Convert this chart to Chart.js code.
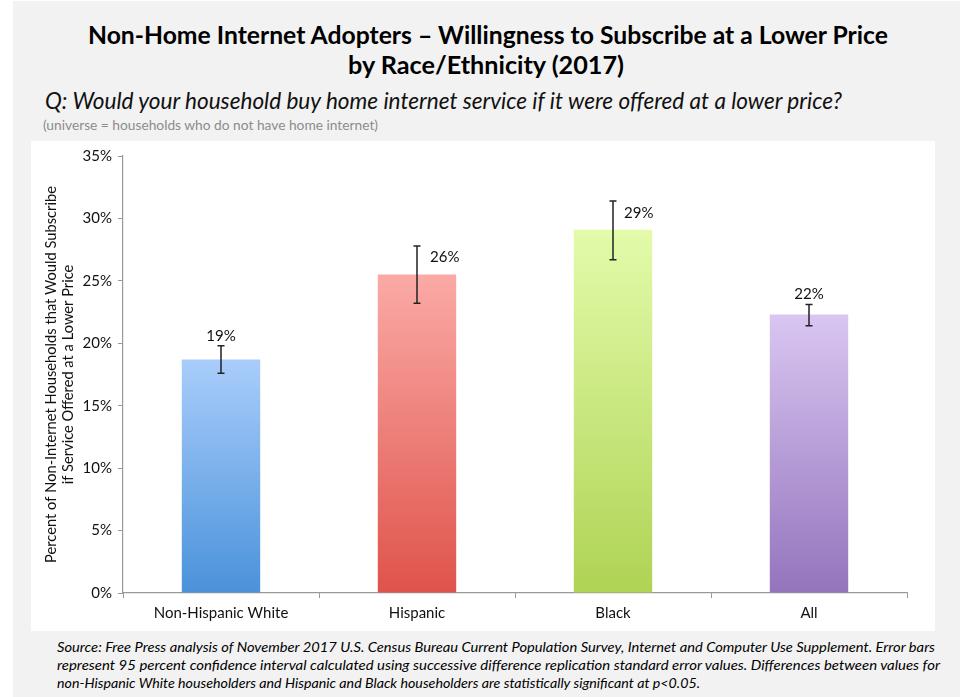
<!DOCTYPE html>
<html>
<head>
<meta charset="utf-8">
<script src="https://cdn.jsdelivr.net/npm/chart.js@4.4.0/dist/chart.umd.min.js"></script>
<style>
  body { margin:0; background:#fff; width:974px; height:697px; overflow:hidden; position:relative; font-family:"Lato","Open Sans",sans-serif; }
  #panel { position:absolute; left:13px; top:1px; width:947px; height:696px; background:#f2f2f2; }
  .fit { position:absolute; white-space:nowrap; transform-origin:0 0; }
  #t1, #t2 { font-weight:bold; font-size:24px; color:#000; }
  #q { font-style:italic; font-size:23px; color:#111; }
  #u { font-size:13px; color:#8c8c8c; }
  #box { position:absolute; left:31px; top:141px; width:904px; height:490px; background:#fff; }
</style>
</head>
<body>
<div id="panel"></div>
<div class="fit" id="t1" data-x="88" data-y="20" data-w="800">Non-Home Internet Adopters – Willingness to Subscribe at a Lower Price</div>
<div class="fit" id="t2" data-x="348" data-y="50" data-w="276">by Race/Ethnicity (2017)</div>
<div class="fit" id="q" data-x="45" data-y="86" data-w="797">Q: Would your household buy home internet service if it were offered at a lower price?</div>
<div class="fit" id="u" data-x="43" data-y="117" data-w="335">(universe = households who do not have home internet)</div>
<div id="box"><canvas id="canvas" width="904" height="490"></canvas></div>
<div class="fit" data-x="57" data-y="639" data-w="878" style="font-style:italic;font-size:13px">Source: Free Press analysis of November 2017 U.S. Census Bureau Current Population Survey, Internet and Computer Use Supplement. Error bars</div>
<div class="fit" data-x="57" data-y="657" data-w="883" style="font-style:italic;font-size:13px">represent 95 percent confidence interval calculated using successive difference replication standard error values. Differences between values for</div>
<div class="fit" data-x="57" data-y="675" data-w="643" style="font-style:italic;font-size:13px">non-Hispanic White householders and Hispanic and Black householders are statistically significant at p&lt;0.05.</div>
<script>
// squeeze the header / footer lines to the widths of the original
var fits = document.querySelectorAll('.fit');
for (var i = 0; i < fits.length; i++) {
  var el = fits[i];
  el.style.left = el.dataset.x + 'px';
  el.style.top = el.dataset.y + 'px';
  var w = el.getBoundingClientRect().width;
  el.style.transform = 'scaleX(' + (parseFloat(el.dataset.w) / w) + ')';
}

var categories = ['Non-Hispanic White', 'Hispanic', 'Black', 'All'];
var values = [18.7, 25.5, 29.1, 22.3];
var errLow = [17.6, 23.2, 26.7, 21.4];
var errHigh = [19.8, 27.8, 31.4, 23.1];
var valueLabels = ['19%', '26%', '29%', '22%'];
var yTicks = [0, 5, 10, 15, 20, 25, 30, 35];

var topColors = ['#a9cdfb', '#fbaaa6', '#e3fbaa', '#d9c6f1'];
var bottomColors = ['#4a92da', '#df534b', '#afd354', '#9474bd'];
// label nudges where the error bar would run through the label
var labelShift = [0, 26, 24, 0];

var ctx = document.getElementById('canvas').getContext('2d');

var errorBars = {
  id: 'errorBars',
  afterDatasetsDraw: function(chart) {
    var c = chart.ctx, y = chart.scales.y, meta = chart.getDatasetMeta(0);
    c.save();
    c.strokeStyle = '#222';
    c.lineWidth = 1.5;
    for (var i = 0; i < values.length; i++) {
      var x = meta.data[i].x;
      var hi = y.getPixelForValue(errHigh[i]), lo = y.getPixelForValue(errLow[i]);
      c.beginPath();
      c.moveTo(x, hi); c.lineTo(x, lo);
      c.moveTo(x - 3.5, hi); c.lineTo(x + 3.5, hi);
      c.moveTo(x - 3.5, lo); c.lineTo(x + 3.5, lo);
      c.stroke();
    }
    c.fillStyle = '#111';
    c.font = '15px Lato, "Open Sans", sans-serif';
    c.textBaseline = 'middle';
    for (var i = 0; i < values.length; i++) {
      var x = meta.data[i].x;
      var top = y.getPixelForValue(values[i]);
      var ly = top - 17;
      if (labelShift[i] == 0) {
        ly = Math.min(ly, y.getPixelForValue(errHigh[i]) - 10);
        c.textAlign = 'center';
        c.fillText(valueLabels[i], x, ly);
      } else {
        c.textAlign = 'left';
        c.fillText(valueLabels[i], x + labelShift[i] - 13, ly);
      }
    }
    c.restore();
  }
};

var chart = new Chart(ctx, {
  type: 'bar',
  data: {
    labels: categories,
    datasets: [{
      data: values,
      backgroundColor: function(context) {
        var ch = context.chart;
        if (!ch.chartArea) return topColors[context.dataIndex];
        var y = ch.scales.y;
        var g = ch.ctx.createLinearGradient(0, y.getPixelForValue(values[context.dataIndex]), 0, y.getPixelForValue(0));
        g.addColorStop(0, topColors[context.dataIndex]);
        g.addColorStop(1, bottomColors[context.dataIndex]);
        return g;
      },
      borderWidth: 0,
      barPercentage: 0.4,
      categoryPercentage: 1
    }]
  },
  options: {
    responsive: false,
    animation: false,
    layout: { padding: { top: 5, right: 28, left: 0, bottom: 0 } },
    plugins: { legend: { display: false }, tooltip: { enabled: false } },
    scales: {
      x: {
        grid: { display: true, drawOnChartArea: false, offset: true, tickLength: 5, color: '#999' },
        border: { color: '#999', width: 1.2 },
        ticks: { color: '#111', font: { family: 'Lato, "Open Sans", sans-serif', size: 15 }, padding: 6 },
        afterFit: function(s) { s.height = 38; }
      },
      y: {
        min: 0, max: 35,
        afterBuildTicks: function(s) { s.ticks = yTicks.map(function(v) { return { value: v }; }); },
        grid: { display: true, drawOnChartArea: false, tickLength: 5, color: '#999' },
        border: { color: '#999', width: 1.2 },
        ticks: {
          color: '#111', padding: 6,
          font: { family: 'Lato, "Open Sans", sans-serif', size: 15 },
          callback: function(v) { return v + '%'; }
        },
        title: {
          display: true,
          text: ['Percent of Non-Internet Households that Would Subscribe', 'if Service Offered at a Lower Price'],
          color: '#111',
          font: { family: 'Lato, "Open Sans", sans-serif', size: 14.7 },
          padding: { top: 11, bottom: 0 }
        },
        afterFit: function(s) { s.width = 92; }
      }
    }
  },
  plugins: [errorBars]
});
</script>
</body>
</html>
